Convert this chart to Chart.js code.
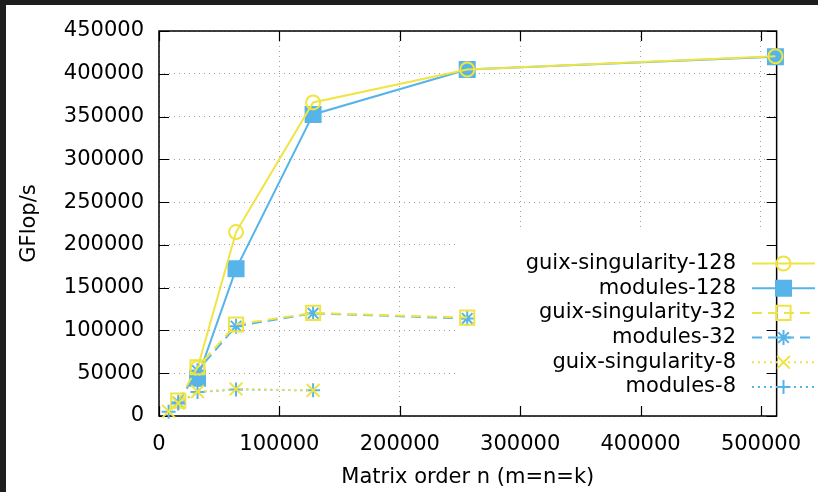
<!DOCTYPE html>
<html>
<head>
<meta charset="utf-8">
<script src="https://cdn.jsdelivr.net/npm/chart.js@4/dist/chart.umd.min.js"></script>
<style>
  html, body { margin: 0; padding: 0; background: #1e1e1e; }
  canvas { display: block; }
</style>
</head>
<body>
<canvas id="chart" width="818" height="492"></canvas>
<script>
const sizes128 = [32000, 64000, 128000, 256000, 512000];
const sizes32 = [16000, 32000, 64000, 128000, 256000];
const sizes8 = [8000, 16000, 32000, 64000, 128000];

const guix128 = [56000, 215000, 366500, 405000, 420500];
const modules128 = [44000, 172000, 352500, 405000, 420000];
const guix32 = [18000, 57000, 107000, 120500, 115000];
const modules32 = [16000, 53000, 105000, 120000, 114000];
const guix8 = [5500, 15000, 28500, 31500, 30000];
const modules8 = [5000, 14500, 28000, 31000, 30000];

const xTicks = [0, 100000, 200000, 300000, 400000, 500000];
const yTicks = [0, 50000, 100000, 150000, 200000, 250000, 300000, 350000, 400000, 450000];

const YELLOW = '#f0e442';
const BLUE = '#56b4e9';

const pairs = (xs, ys) => xs.map((x, i) => ({ x, y: ys[i] }));

Chart.defaults.font.family = '"DejaVu Sans", sans-serif';
Chart.defaults.font.size = 21;
Chart.defaults.color = '#000';

const series = (label, xs, ys, color, dash, style, radius, fill, order) => ({
  label,
  data: pairs(xs, ys),
  showLine: true,
  borderColor: color,
  borderWidth: 2,
  borderDash: dash,
  pointStyle: style,
  pointRadius: radius,
  pointHoverRadius: radius,
  pointBorderWidth: 2,
  pointBorderColor: color,
  pointBackgroundColor: fill ? color : 'rgba(0,0,0,0)',
  clip: false,
  order,
});

const datasets = [
  series('guix-singularity-128', sizes128, guix128, YELLOW, [], 'circle', 7, false, 5),
  series('modules-128', sizes128, modules128, BLUE, [], 'rect', 10.6, true, 6),
  series('guix-singularity-32', sizes32, guix32, YELLOW, [10, 6], 'rect', 10, false, 3),
  series('modules-32', sizes32, modules32, BLUE, [10, 6], 'star', 7.5, false, 4),
  series('guix-singularity-8', sizes8, guix8, YELLOW, [2, 4], 'crossRot', 9, false, 1),
  series('modules-8', sizes8, modules8, BLUE, [2, 4], 'cross', 7, false, 2),
];

// dark frame, opaque key area, border box and inward ticks
const frame = {
  id: 'frame',
  beforeDraw(chart) {
    const { ctx, width, height } = chart;
    ctx.save();
    ctx.fillStyle = '#1e1e1e';
    ctx.fillRect(0, 0, width, height);
    ctx.fillStyle = '#fff';
    ctx.fillRect(6, 5, width - 6, height - 5);
    ctx.restore();
  },
  beforeDatasetsDraw(chart) {
    const { ctx, chartArea: a, scales } = chart;
    ctx.save();
    ctx.fillStyle = '#fff';
    ctx.fillRect(455, 228, a.right - 455, a.bottom - 228);
    ctx.strokeStyle = '#000';
    ctx.lineWidth = 1.5;
    ctx.strokeRect(a.left, a.top, a.right - a.left, a.bottom - a.top);
    ctx.lineWidth = 1.2;
    ctx.beginPath();
    xTicks.forEach(v => {
      const px = Math.round(scales.x.getPixelForValue(v)) + 0.5;
      ctx.moveTo(px, a.bottom); ctx.lineTo(px, a.bottom - 10);
      ctx.moveTo(px, a.top); ctx.lineTo(px, a.top + 10);
    });
    yTicks.forEach(v => {
      const py = Math.round(scales.y.getPixelForValue(v)) + 0.5;
      ctx.moveTo(a.left, py); ctx.lineTo(a.left + 10, py);
      ctx.moveTo(a.right, py); ctx.lineTo(a.right - 10, py);
    });
    ctx.stroke();
    ctx.restore();
  },
};

// gnuplot style key: text right aligned, sample line on the right
const key = {
  id: 'key',
  afterDraw(chart) {
    const { ctx } = chart;
    ctx.save();
    ctx.font = '21px "DejaVu Sans", sans-serif';
    ctx.textAlign = 'right';
    ctx.textBaseline = 'middle';
    chart.data.datasets.forEach((ds, i) => {
      const y = 263.5 + i * 24.7;
      ctx.fillStyle = '#000';
      ctx.fillText(ds.label, 736, y);
      ctx.strokeStyle = ds.borderColor;
      ctx.lineWidth = ds.borderWidth;
      ctx.setLineDash(ds.borderDash);
      ctx.beginPath();
      ctx.moveTo(752, y);
      ctx.lineTo(815, y);
      ctx.stroke();
      ctx.setLineDash([]);
      ctx.fillStyle = ds.pointBackgroundColor;
      ctx.lineWidth = ds.pointBorderWidth;
      Chart.helpers.drawPoint(ctx, {
        pointStyle: ds.pointStyle,
        radius: ds.pointRadius,
        borderWidth: ds.pointBorderWidth,
        rotation: 0,
      }, 783.5, y);
    });
    ctx.restore();
  },
};

new Chart(document.getElementById('chart').getContext('2d'), {
  type: 'scatter',
  data: { datasets },
  options: {
    responsive: false,
    animation: false,
    events: [],
    layout: { padding: { left: 0, top: 31, right: 37, bottom: 0 } },
    plugins: { legend: { display: false }, tooltip: { enabled: false } },
    scales: {
      x: {
        type: 'linear',
        min: 0,
        max: 513000,
        afterBuildTicks: s => { s.ticks = xTicks.map(value => ({ value })); },
        afterFit: s => { s.height = 76; },
        ticks: { padding: 16, maxRotation: 0, autoSkip: false, callback: v => String(v) },
        grid: { color: '#a0a0a0', lineWidth: 1, drawTicks: false },
        border: { display: false, dash: [1, 4] },
        title: { display: true, text: 'Matrix order n (m=n=k)', padding: { top: 0, bottom: 2 } },
      },
      y: {
        type: 'linear',
        min: 0,
        max: 450000,
        afterBuildTicks: s => { s.ticks = yTicks.map(value => ({ value })); },
        afterFit: s => { s.width = 159; },
        ticks: { padding: 15, callback: v => String(v) },
        grid: { color: '#a0a0a0', lineWidth: 1, drawTicks: false },
        border: { display: false, dash: [1, 4] },
        title: { display: true, text: 'GFlop/s', padding: { top: 17, bottom: 0 } },
      },
    },
  },
  plugins: [frame, key],
});
</script>
</body>
</html>
